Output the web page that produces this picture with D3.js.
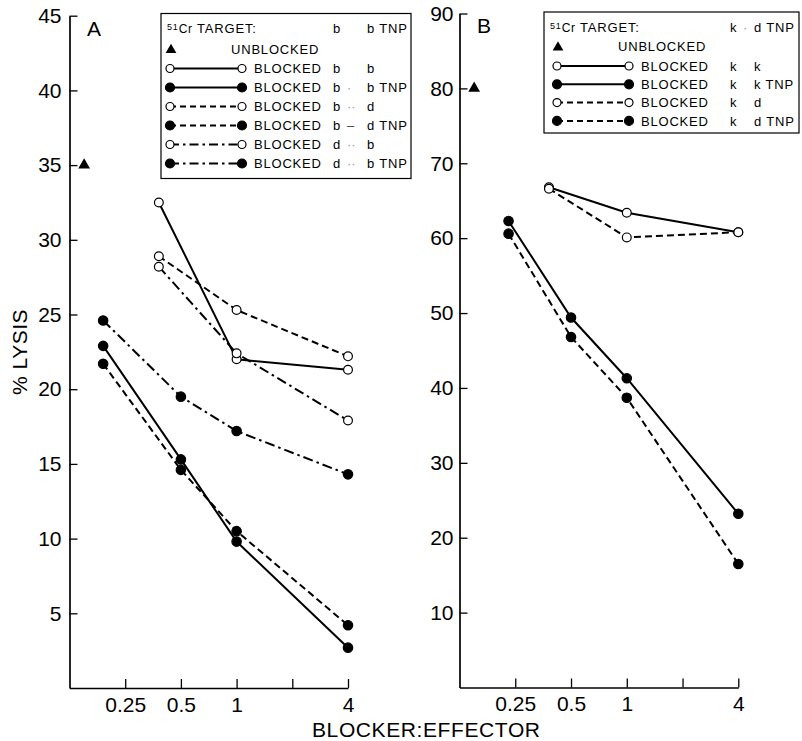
<!DOCTYPE html>
<html>
<head>
<meta charset="utf-8">
<script src="https://cdn.jsdelivr.net/npm/d3@7"></script>
<style>
  html, body { margin: 0; padding: 0; background: #fff; }
  svg { display: block; font-family: "Liberation Sans", Arial, Helvetica, sans-serif; }
</style>
</head>
<body>
<svg id="chart" width="802" height="741"></svg>
<script>
// ---------------- DATA ----------------
const xTickValues = [0.25, 0.5, 1, 2, 4];
const xTickLabels = ["0.25", "0.5", "1", "", "4"];
const yTicksA = [5, 10, 15, 20, 25, 30, 35, 40, 45];
const yTicksB = [10, 20, 30, 40, 50, 60, 70, 80, 90];

// blocker:effector ratios
const xOpen = [0.38, 1, 4];
const xFilledA = [0.19, 0.5, 1, 4];
const xFilledB = [0.23, 0.5, 1, 4];
const xUnblocked = 0.15;

// Panel A (% lysis)
const unblockedA = 35;
const A_b_b = [32.5, 22.0, 21.3];
const A_b_bTNP = [22.9, 15.3, 9.8, 2.7];
const A_b_d = [28.9, 25.3, 22.2];
const A_b_dTNP = [21.7, 14.6, 10.5, 4.2];
const A_d_b = [28.2, 22.4, 17.9];
const A_d_bTNP = [24.6, 19.5, 17.2, 14.3];

// Panel B (% lysis)
const unblockedB = 80;
const B_k_k = [66.8, 63.4, 60.8];
const B_k_kTNP = [62.3, 49.4, 41.3, 23.2];
const B_k_d = [66.6, 60.1, 60.8];
const B_k_dTNP = [60.6, 46.8, 38.7, 16.5];

// Legend texts
const legendA = [
  ["b", "", "b"], ["b", "\u00b7", "b TNP"], ["b", "\u00b7\u00b7", "d"],
  ["b", "\u2013", "d TNP"], ["d", "\u00b7\u00b7", "b"], ["d", "\u00b7\u00b7", "b TNP"]
];
const legendB = [
  ["k", "", "k"], ["k", "", "k TNP"], ["k", "", "d"], ["k", "", "d TNP"]
];

// ---------------- STYLES ----------------
const dashStyles = { solid: null, dashed: "7,4", dashdot: "10,4,2.5,4" };
const legendDash = { solid: null, dashed: "6,4", dashdot: "9,4,2.5,4" };

const svg = d3.select("#chart");
const FONT = 21;

function makePanel(cfg) {
  const x = d3.scaleLog().base(2).domain([0.125, 4]).range([cfg.x0, cfg.x1]);
  const y = d3.scaleLinear().domain([0, cfg.ymax]).range([cfg.yb, cfg.yt]);
  const g = svg.append("g");

  // y axis
  const ya = g.append("g")
    .attr("transform", `translate(${cfg.x0},0)`)
    .call(d3.axisLeft(y).tickValues(cfg.yTicks).tickSize(-8).tickSizeOuter(0).tickPadding(cfg.yPad));
  ya.select(".domain").attr("stroke-width", 1.7);
  ya.selectAll(".tick line").attr("stroke-width", 1.3);
  ya.selectAll("text").attr("font-size", FONT).attr("fill", "#000")
    .attr("font-family", "'Liberation Sans', Arial, sans-serif");

  // x axis
  const xa = g.append("g")
    .attr("transform", `translate(0,${cfg.yb})`)
    .call(d3.axisBottom(x).tickValues(xTickValues)
      .tickFormat((d, i) => xTickLabels[i]).tickSize(-9).tickSizeOuter(0).tickPadding(9));
  xa.select(".domain").attr("stroke-width", 1.7);
  xa.selectAll(".tick line").attr("stroke-width", 1.3);
  xa.selectAll("text").attr("font-size", FONT).attr("fill", "#000")
    .attr("font-family", "'Liberation Sans', Arial, sans-serif");

  // panel letter
  g.append("text").attr("x", cfg.letterX).attr("y", cfg.letterY)
    .attr("font-size", 21).text(cfg.letter);

  // unblocked triangle
  const tri = d3.symbol().type(d3.symbolTriangle).size(60);
  g.append("path").attr("d", tri)
    .attr("transform", `translate(${x(xUnblocked)},${y(cfg.unblocked)})`)
    .attr("fill", "#000");

  const line = d3.line().x(d => x(d[0])).y(d => y(d[1]));
  cfg.series.forEach(s => {
    const pts = s.xs.map((xv, i) => [xv, s.ys[i]]);
    g.append("path").datum(pts).attr("d", line)
      .attr("fill", "none").attr("stroke", "#000").attr("stroke-width", 2)
      .attr("stroke-dasharray", dashStyles[s.style]);
  });
  cfg.series.forEach(s => {
    const pts = s.xs.map((xv, i) => [xv, s.ys[i]]);
    g.selectAll(null).data(pts).enter().append("circle")
      .attr("cx", d => x(d[0])).attr("cy", d => y(d[1]))
      .attr("r", s.filled ? 4.7 : 4.4)
      .attr("fill", s.filled ? "#000" : "#fff")
      .attr("stroke", "#000").attr("stroke-width", 1.2);
  });

  // legend
  const L = cfg.legend;
  const lg = g.append("g");
  lg.append("rect").attr("x", L.x).attr("y", L.y).attr("width", L.w).attr("height", L.h)
    .attr("fill", "#fff").attr("stroke", "#000").attr("stroke-width", 1.2);
  const fs = 13, ls = 0.8;
  // header
  const ht = lg.append("text").attr("x", L.x + 6).attr("y", L.rows[0] + 4.7)
    .attr("font-size", fs).attr("letter-spacing", ls);
  ht.append("tspan").attr("font-size", 9).attr("dy", -3).text("51");
  ht.append("tspan").attr("font-size", 12).attr("dy", 3).text("Cr");
  ht.append("tspan").text(" TARGET:");
  lg.append("text").attr("x", L.c1).attr("y", L.rows[0] + 4.7).attr("font-size", fs)
    .text(L.header[0]);
  lg.append("text").attr("x", L.cm).attr("y", L.rows[0] + 4.7).attr("font-size", fs)
    .attr("fill", "#999").text(L.header[1]);
  lg.append("text").attr("x", L.c2).attr("y", L.rows[0] + 4.7).attr("font-size", fs)
    .attr("letter-spacing", ls).text(L.header[2]);
  // unblocked row
  lg.append("path").attr("d", d3.symbol().type(d3.symbolTriangle).size(50))
    .attr("transform", `translate(${L.s0 + 1},${L.rows[1] + 1})`).attr("fill", "#000");
  lg.append("text").attr("x", L.ub).attr("y", L.rows[1] + 4.7).attr("font-size", fs)
    .attr("letter-spacing", ls).text("UNBLOCKED");
  // series rows
  cfg.series.forEach((s, i) => {
    const yy = L.rows[i + 2];
    lg.append("line").attr("x1", L.s0).attr("x2", L.s1).attr("y1", yy).attr("y2", yy)
      .attr("stroke", "#000").attr("stroke-width", 2)
      .attr("stroke-dasharray", legendDash[s.style]);
    [L.s0, L.s1].forEach(cx => {
      lg.append("circle").attr("cx", cx).attr("cy", yy).attr("r", s.filled ? 4.5 : 4)
        .attr("fill", s.filled ? "#000" : "#fff").attr("stroke", "#000").attr("stroke-width", 1.2);
    });
    lg.append("text").attr("x", L.bx).attr("y", yy + 4.7).attr("font-size", fs)
      .attr("letter-spacing", ls).text("BLOCKED");
    lg.append("text").attr("x", L.c1).attr("y", yy + 4.7).attr("font-size", fs).text(s.leg[0]);
    lg.append("text").attr("x", L.cm).attr("y", yy + 4.7).attr("font-size", fs)
      .attr("fill", s.leg[1] === "\u2013" ? "#444" : "#999").text(s.leg[1]);
    lg.append("text").attr("x", L.c2).attr("y", yy + 4.7).attr("font-size", fs)
      .attr("letter-spacing", ls).text(s.leg[2]);
  });
}

makePanel({
  x0: 69.5, x1: 348, yb: 688, yt: 15.7, ymax: 45, yTicks: yTicksA, yPad: 8,
  letter: "A", letterX: 87, letterY: 36, unblocked: unblockedA,
  series: [
    { xs: xOpen, ys: A_b_b, style: "solid", filled: false, leg: legendA[0] },
    { xs: xFilledA, ys: A_b_bTNP, style: "solid", filled: true, leg: legendA[1] },
    { xs: xOpen, ys: A_b_d, style: "dashed", filled: false, leg: legendA[2] },
    { xs: xFilledA, ys: A_b_dTNP, style: "dashed", filled: true, leg: legendA[3] },
    { xs: xOpen, ys: A_d_b, style: "dashdot", filled: false, leg: legendA[4] },
    { xs: xFilledA, ys: A_d_bTNP, style: "dashdot", filled: true, leg: legendA[5] }
  ],
  legend: { x: 161, y: 13.5, w: 250, h: 165, rows: [28, 49, 68.5, 87.5, 106.5, 125.5, 144.5, 163.5],
            s0: 170, s1: 242, bx: 254, ub: 231, c1: 333, cm: 347, c2: 367, header: ["b", "", "b TNP"] }
});

makePanel({
  x0: 459.5, x1: 738.3, yb: 687.5, yt: 13.5, ymax: 90, yTicks: yTicksB, yPad: 6,
  letter: "B", letterX: 477, letterY: 33, unblocked: unblockedB,
  series: [
    { xs: xOpen, ys: B_k_k, style: "solid", filled: false, leg: legendB[0] },
    { xs: xFilledB, ys: B_k_kTNP, style: "solid", filled: true, leg: legendB[1] },
    { xs: xOpen, ys: B_k_d, style: "dashed", filled: false, leg: legendB[2] },
    { xs: xFilledB, ys: B_k_dTNP, style: "dashed", filled: true, leg: legendB[3] }
  ],
  legend: { x: 544, y: 12, w: 255, h: 121, rows: [27, 46.5, 66, 84.3, 102.6, 120.9],
            s0: 557, s1: 629, bx: 641, ub: 618, c1: 730, cm: 743, c2: 754, header: ["k", "\u00b7", "d TNP"] }
});

// axis titles
svg.append("text").attr("transform", "translate(27,352) rotate(-90)")
  .attr("text-anchor", "middle").attr("font-size", FONT).attr("letter-spacing", 0.5).text("% LYSIS");
svg.append("text").attr("x", 312).attr("y", 737).attr("font-size", FONT)
  .attr("letter-spacing", 0.6).text("BLOCKER:EFFECTOR");
</script>
</body>
</html>
